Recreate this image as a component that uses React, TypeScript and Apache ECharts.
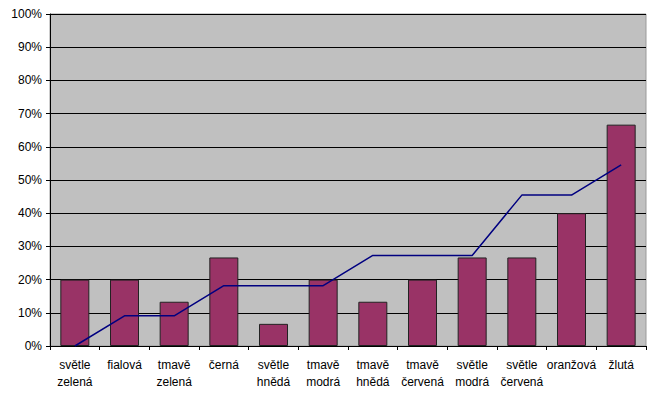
import React, { useEffect, useRef } from "react";
import * as echarts from "echarts";

const categories = [
  "světle\nzelená",
  "fialová",
  "tmavě\nzelená",
  "černá",
  "světle\nhnědá",
  "tmavě\nmodrá",
  "tmavě\nhnědá",
  "tmavě\nčervená",
  "světle\nmodrá",
  "světle\nčervená",
  "oranžová",
  "žlutá",
];

const barValues = [20, 20, 13.33, 26.67, 6.67, 20, 13.33, 20, 26.67, 26.67, 40, 66.67];
const lineValues = [0, 9.09, 9.09, 18.18, 18.18, 18.18, 27.27, 27.27, 27.27, 45.45, 45.45, 54.55];

const FONT = "'Liberation Sans', Arial, sans-serif";

export default function App() {
  const ref = useRef<HTMLDivElement>(null);
  useEffect(() => {
    if (!ref.current) return;
    const chart = echarts.init(ref.current, undefined, { renderer: "svg" });
    chart.setOption({
      animation: false,
      backgroundColor: "#ffffff",
      grid: {
        left: 50,
        right: 1,
        top: 14,
        bottom: 48,
        show: true,
        backgroundColor: "#c0c0c0",
        borderColor: "#9a9a9a",
        borderWidth: 1,
      },
      xAxis: {
        type: "category",
        data: categories,
        boundaryGap: true,
        axisLine: { show: true, lineStyle: { color: "#000000", width: 1 } },
        axisTick: { show: true, length: 4, lineStyle: { color: "#000000" } },
        axisLabel: {
          interval: 0,
          color: "#000000",
          fontFamily: FONT,
          fontSize: 12,
          lineHeight: 17,
          margin: 10,
        },
        splitLine: { show: false },
      },
      yAxis: {
        type: "value",
        min: 0,
        max: 100,
        interval: 10,
        axisLine: { show: true, lineStyle: { color: "#000000", width: 1 } },
        axisTick: { show: true, length: 4, lineStyle: { color: "#000000" } },
        axisLabel: {
          color: "#000000",
          fontFamily: FONT,
          fontSize: 12,
          margin: 8,
          formatter: (v: number) => `${v}%`,
        },
        splitLine: { show: true, lineStyle: { color: "#000000", width: 1 } },
      },
      series: [
        {
          type: "bar",
          data: barValues,
          barWidth: 29,
          itemStyle: { color: "#993366", borderColor: "#222222", borderWidth: 1 },
        },
        {
          type: "line",
          data: lineValues,
          symbol: "none",
          lineStyle: { color: "#000080", width: 1.5 },
        },
      ],
    });
    return () => chart.dispose();
  }, []);
  return (
    <div
      ref={ref}
      style={{ position: "fixed", left: 0, top: 0, width: 647, height: 394 }}
    />
  );
}
